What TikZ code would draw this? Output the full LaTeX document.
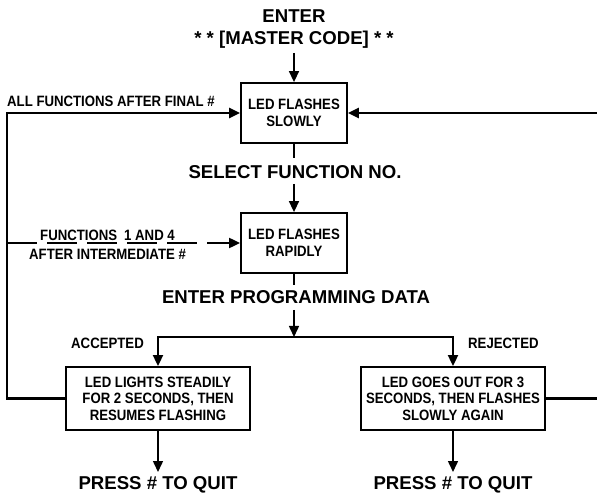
\documentclass[tikz,border=0pt]{standalone}
\usepackage{fontspec}
\setmainfont{Liberation Sans}
\newfontfamily\condfont[FakeStretch=0.88]{Liberation Sans}
\usetikzlibrary{arrows.meta}
\begin{document}
\begin{tikzpicture}[x=1pt,y=-1pt,
  box/.style={draw, line width=1.8pt, align=center, inner sep=0pt,
    font=\condfont\bfseries\fontsize{15}{16.5}\selectfont},
  big/.style={font=\bfseries\fontsize{18.6}{20}\selectfont, inner sep=0pt},
  small/.style={font=\condfont\bfseries\fontsize{15}{16}\selectfont, inner sep=0pt, anchor=west},
  arr/.style={line width=1.5pt, -{Triangle[length=11pt,width=10pt]}},
  plain/.style={line width=1.5pt},
  fb/.style={line width=2.3pt, -{Triangle[length=11pt,width=10pt]}},
]
\useasboundingbox (0,0) rectangle (597,494);
% labels
\node[big] (enter) at (294,16) {ENTER};
\node[big] (mc) at (294,40) {* * [MASTER CODE] * *};
\node[big] (sel) at (295,172) {SELECT FUNCTION NO.};
\node[big] (epd) at (296,297) {ENTER PROGRAMMING DATA};
\node[big] (q1) at (158,485) {PRESS \# TO QUIT};
\node[big] (q2) at (453,485) {PRESS \# TO QUIT};
\node[small] (all) at (7,101) {ALL FUNCTIONS AFTER FINAL \#};
\node[small] (f14) at (40,235) {FUNCTIONS\hspace{7pt}1 AND 4};
\node[small] (aim) at (29,254) {AFTER INTERMEDIATE \#};
\node[small] (acc) at (71,343) {ACCEPTED};
\node[small] (rej) at (468,343) {REJECTED};
% boxes
\node[box, minimum width=106pt, minimum height=60pt] (b1) at (294,113) {LED FLASHES\\SLOWLY};
\node[box, minimum width=106pt, minimum height=60pt] (b2) at (294,243) {LED FLASHES\\RAPIDLY};
\node[box, minimum width=184pt, minimum height=63pt] (b3) at (158,398.5) {LED LIGHTS STEADILY\\FOR 2 SECONDS, THEN\\RESUMES FLASHING};
\node[box, minimum width=184pt, minimum height=63pt] (b4) at (453,398.5) {LED GOES OUT FOR 3\\SECONDS, THEN FLASHES\\SLOWLY AGAIN};
% free ends
\coordinate (s0) at (294,53);
\coordinate (s1) at (294,158);
\coordinate (s2) at (294,184);
\coordinate (s3) at (294,285);
\coordinate (s4) at (294,310);
\coordinate (j) at (294,337);
\coordinate (e3) at (158,472);
\coordinate (e4) at (453,472);
\coordinate (lft) at (7,113);
\coordinate (dst) at (7,243);
\coordinate (rgt) at (600,113);
% connectors
\draw[arr] (s0) -- (b1.north);
\draw[plain] (b1.south) -- (s1);
\draw[arr] (s2) -- (b2.north);
\draw[plain] (b2.south) -- (s3);
\draw[arr] (s4) -- (j);
\draw[arr, line width=1.8pt] (j) -| (b3.north);
\draw[arr, line width=1.8pt] (j) -| (b4.north);
\draw[arr] (b3.south) -- (e3);
\draw[arr] (b4.south) -- (e4);
\draw[fb] (b3.west) -| (lft) -- (b1.west);
\draw[fb] (b4.east) -| (rgt) -- (b1.east);
\draw[fb, line width=2pt, dash pattern=on 30pt off 10pt] (dst) -- (b2.west);
\end{tikzpicture}
\end{document}
